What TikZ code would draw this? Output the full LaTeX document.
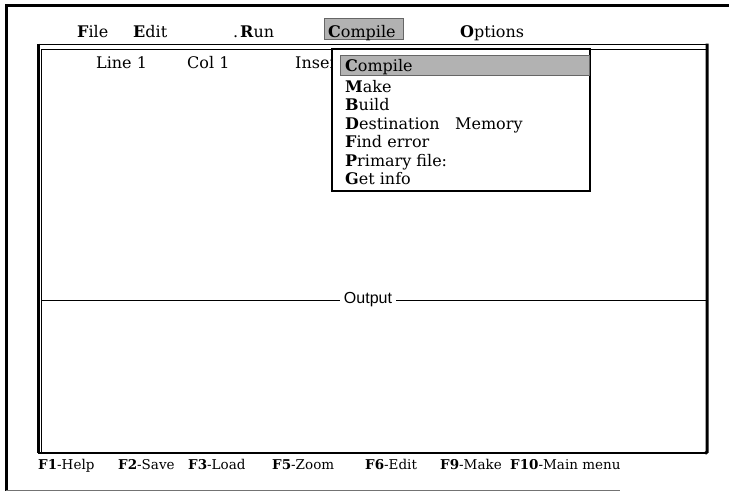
\documentclass[tikz,border=0pt]{standalone}
\usepackage{fontspec}
\setmainfont{DejaVu Serif}
\newfontfamily\outfont{Liberation Sans}
\begin{document}
\begin{tikzpicture}[x=1pt,y=-1pt,
  bartext/.style={anchor=base west,inner sep=0pt,font=\fontsize{16}{18}\selectfont},
  fkey/.style={anchor=base west,inner sep=0pt,font=\fontsize{13.5}{15}\selectfont},
  hilite/.style={fill=black!30,draw=black!60,line width=0.6pt},
  frame/.style={line width=3pt,line cap=rect},
  winline/.style={line width=1pt},
]
\useasboundingbox (0,0) rectangle (729,498);
% outer frame
\draw[frame] (729,5) -- (6,5) -- (6,489);
\draw[black!55,line width=0.8pt] (6,490) -- (620,490);
% inner window
\draw[winline] (38,44) -- (707,44);
\draw[winline] (41,49) -- (707,49);
\draw[line width=2.2pt] (38.5,43.5) -- (38.5,453);
\draw[line width=0.8pt] (41,49) -- (41,453);
\draw[line width=3pt] (707,43.5) -- (707,452) -- (705,453.5);
\draw[line width=2pt] (37.5,453) -- (706,453);
% menu bar
\fill[hilite] (324,18) rectangle (403,39);
\node[bartext] (mfile) at (77,37) {\textbf{F}ile};
\node[bartext] (medit) at (133,37) {\textbf{E}dit};
\node[bartext] (mdot) at (233,37) {.};
\node[bartext] (mrun) at (240,37) {\textbf{R}un};
\node[bartext] (mcomp) at (328,37) {\textbf{C}ompile};
\node[bartext] (mopt) at (460,37) {\textbf{O}ptions};
% status line
\node[bartext] (line) at (96,68) {Line 1};
\node[bartext] (col) at (187,68) {Col 1};
\node[bartext] (ins) at (295,68) {Insert};
% drop-down menu
\draw[fill=white,line width=1.2pt] (332,49) rectangle (590,191);
\fill[hilite] (340,55) rectangle (589,75);
\node[bartext] (icomp) at (345,71) {\textbf{C}ompile};
\node[bartext] (imake) at (345,92) {\textbf{M}ake};
\node[bartext] (ibuild) at (345,110.5) {\textbf{B}uild};
\node[bartext] (idest) at (345,129) {\textbf{D}estination};
\node[bartext] (imem) at (455,129) {Memory};
\node[bartext] (ifind) at (345,147.5) {\textbf{F}ind error};
\node[bartext] (iprim) at (345,166) {\textbf{P}rimary file:};
\node[bartext] (iget) at (345,184.5) {\textbf{G}et info};
% output separator
\node[inner sep=0pt,font=\outfont\fontsize{16}{18}\selectfont] (out) at (368,300) {Output};
\draw[line width=1pt] (41,300) -- ([xshift=-4pt]out.west);
\draw[line width=1pt] ([xshift=4pt]out.east) -- (707,300);
% function keys
\node[fkey] (f1) at (38,469) {\textbf{F1}-Help};
\node[fkey] (f2) at (118,469) {\textbf{F2}-Save};
\node[fkey] (f3) at (188,469) {\textbf{F3}-Load};
\node[fkey] (f5) at (272,469) {\textbf{F5}-Zoom};
\node[fkey] (f6) at (365,469) {\textbf{F6}-Edit};
\node[fkey] (f9) at (440,469) {\textbf{F9}-Make};
\node[fkey] (f10) at (510,469) {\textbf{F10}-Main menu};
\end{tikzpicture}
\end{document}
